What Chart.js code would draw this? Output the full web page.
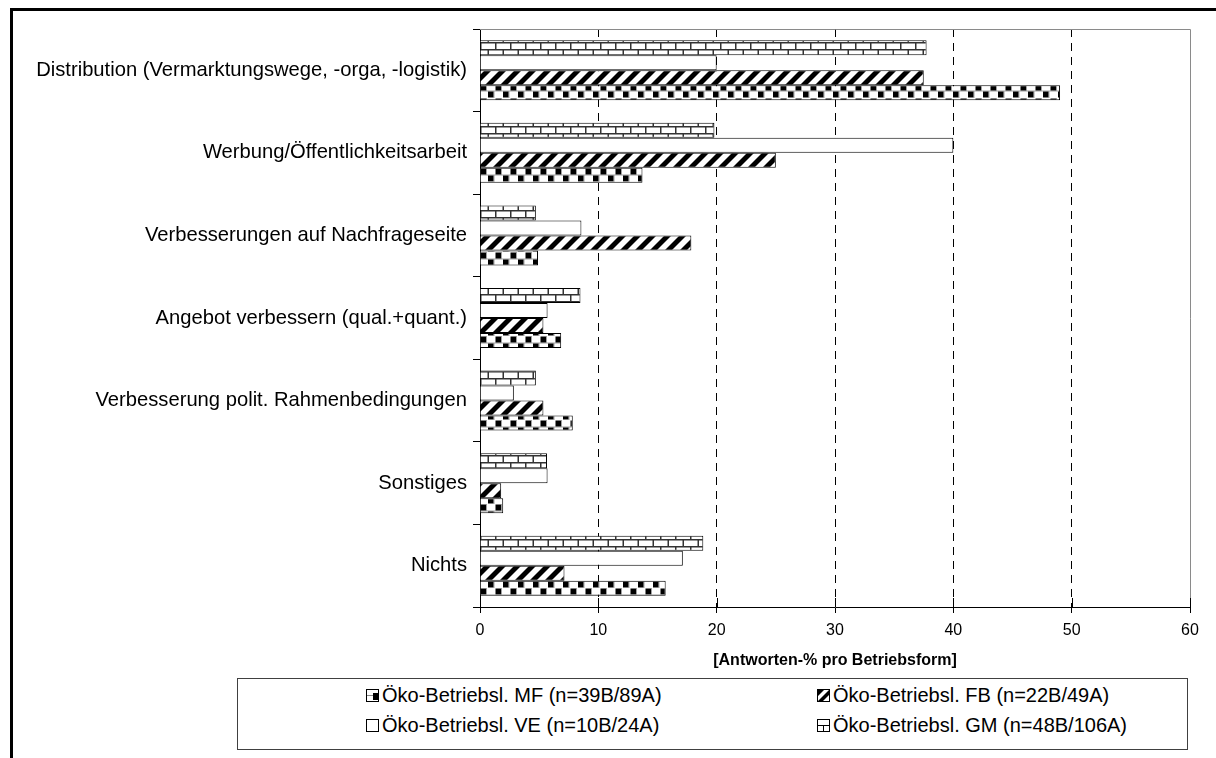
<!DOCTYPE html>
<html lang="de">
<head>
<meta charset="utf-8">
<title>Antworten pro Betriebsform</title>
<script src="https://cdn.jsdelivr.net/npm/chart.js@4.4.1/dist/chart.umd.min.js"></script>
<style>
  html, body { margin: 0; padding: 0; background: #fff; }
  #wrap { position: relative; width: 1216px; height: 758px; overflow: hidden; background: #fff; }
  #chart { position: absolute; left: 0; top: 0; }
  #legend {
    position: absolute; left: 237px; top: 678px; width: 951px; height: 72px;
    box-sizing: border-box; border: 1px solid #404040; background: #fff;
    font-family: "Liberation Sans", Arial, sans-serif; font-size: 20px; color: #000;
  }
  #legend .item { position: absolute; display: flex; align-items: center; white-space: nowrap; line-height: 24px; }
  #legend canvas { margin-right: 3px; }
</style>
</head>
<body>
<div id="wrap">
  <canvas id="chart" width="1216" height="758"></canvas>
  <div id="legend"></div>
</div>
<script>
// Categories (top to bottom)
const categories = [
  'Distribution (Vermarktungswege, -orga, -logistik)',
  'Werbung/Öffentlichkeitsarbeit',
  'Verbesserungen auf Nachfrageseite',
  'Angebot verbessern (qual.+quant.)',
  'Verbesserung polit. Rahmenbedingungen',
  'Sonstiges',
  'Nichts'
];

// Share of answers in % per farm type
const valuesGM = [37.74, 19.81, 4.72, 8.49, 4.72, 5.66, 18.87];
const valuesVE = [20.00, 40.00, 8.57, 5.71, 2.86, 5.71, 17.14];
const valuesFB = [37.50, 25.00, 17.86, 5.36, 5.36, 1.79, 7.14];
const valuesMF = [49.02, 13.73, 4.90, 6.86, 7.84, 1.96, 15.69];

// Series names
const seriesNames = {
  MF: 'Öko-Betriebsl. MF (n=39B/89A)',
  FB: 'Öko-Betriebsl. FB (n=22B/49A)',
  VE: 'Öko-Betriebsl. VE (n=10B/24A)',
  GM: 'Öko-Betriebsl. GM (n=48B/106A)'
};

// Legend order (row by row, two columns)
const legendOrder = ['MF', 'FB', 'VE', 'GM'];

// x axis
const axisMin = 0;
const axisMax = 60;
const axisStep = 10;
const axisTitle = '[Antworten-% pro Betriebsform]';

// ---- fill patterns ----
function makeTile(w, h, draw) {
  const c = document.createElement('canvas');
  c.width = w; c.height = h;
  const g = c.getContext('2d');
  g.fillStyle = '#fff';
  g.fillRect(0, 0, w, h);
  draw(g, w, h);
  return c;
}

// brick rows
const brickTile = makeTile(15, 14, (g, w, h) => {
  g.fillStyle = '#333';
  g.fillRect(0, 0, w, 1.5);
  g.fillRect(0, 7, w, 1.5);
  g.fillRect(0, 0, 1.5, 7);
  g.fillRect(7.5, 7, 1.5, 7);
});

// wide diagonal stripes
const stripeTile = makeTile(15, 15, (g, w, h) => {
  g.fillStyle = '#000';
  for (let k = -1; k <= 1; k++) {
    const x0 = k * w;
    g.beginPath();
    g.moveTo(x0, h);
    g.lineTo(x0 + w, 0);
    g.lineTo(x0 + w + 7, 0);
    g.lineTo(x0 + 7, h);
    g.closePath();
    g.fill();
  }
});

// offset black squares
const checkTile = makeTile(15, 14, (g, w, h) => {
  g.fillStyle = '#a0a0a0';
  g.fillRect(0, 6.5, w, 1);
  g.fillRect(6, 0, 1, 7);
  g.fillRect(13.5, 7, 1, 7);
  g.fillStyle = '#000';
  g.fillRect(0.5, 0.5, 5.5, 6);
  g.fillRect(8, 7.5, 5.5, 6);
});

const cctx = document.getElementById('chart').getContext('2d');
const fills = {
  GM: cctx.createPattern(brickTile, 'repeat'),
  VE: '#ffffff',
  FB: cctx.createPattern(stripeTile, 'repeat'),
  MF: cctx.createPattern(checkTile, 'repeat')
};

// ---- outer frame, plot border and inner x ticks ----
const framePlugin = {
  id: 'frame',
  beforeDatasetsDraw(chart) {
    const { ctx, chartArea: a } = chart;
    const xs = chart.scales.x;
    ctx.save();
    ctx.strokeStyle = '#8a8a8a';
    ctx.lineWidth = 1;
    ctx.beginPath();
    ctx.moveTo(a.left, a.top + 0.5);
    ctx.lineTo(a.right + 0.5, a.top + 0.5);
    ctx.lineTo(a.right + 0.5, a.bottom);
    ctx.stroke();
    // tick marks also reach a little into the plot area
    ctx.strokeStyle = '#000';
    ctx.beginPath();
    xs.ticks.forEach(t => {
      const px = Math.round(xs.getPixelForValue(t.value)) + 0.5;
      ctx.moveTo(px, a.bottom - 9);
      ctx.lineTo(px, a.bottom);
    });
    ctx.stroke();
    ctx.restore();
  },
  afterDraw(chart) {
    const { ctx } = chart;
    ctx.save();
    ctx.fillStyle = '#000';
    ctx.fillRect(10, 8, 3, chart.height - 8);
    ctx.fillRect(10, 8, chart.width - 10, 3);
    ctx.restore();
  }
};

Chart.defaults.font.family = '"Liberation Sans", Arial, sans-serif';
Chart.defaults.color = '#000';

const chart = new Chart(cctx, {
  type: 'bar',
  data: {
    labels: categories,
    datasets: [
      { label: seriesNames.GM, data: valuesGM, backgroundColor: fills.GM },
      { label: seriesNames.VE, data: valuesVE, backgroundColor: fills.VE },
      { label: seriesNames.FB, data: valuesFB, backgroundColor: fills.FB },
      { label: seriesNames.MF, data: valuesMF, backgroundColor: fills.MF }
    ]
  },
  options: {
    indexAxis: 'y',
    responsive: false,
    animation: false,
    devicePixelRatio: 1,
    layout: { padding: { left: 10, top: 29, right: 26, bottom: 71 } },
    datasets: {
      bar: {
        categoryPercentage: 0.727,
        barPercentage: 1,
        borderWidth: 1,
        borderColor: '#000',
        borderSkipped: 'start'
      }
    },
    plugins: {
      legend: { display: false },
      tooltip: { enabled: false }
    },
    scales: {
      x: {
        min: axisMin,
        max: axisMax,
        ticks: { stepSize: axisStep, color: '#000', font: { size: 16 }, padding: 8 },
        grid: {
          color: c => (c.tick && (c.tick.value === axisMin || c.tick.value === axisMax)) ? 'rgba(0,0,0,0)' : '#000',
          lineWidth: 1,
          tickColor: '#000',
          tickLength: 6,
          tickBorderDash: []
        },
        border: { color: '#000', width: 1, dash: [8, 6] },
        title: {
          display: true,
          text: axisTitle,
          color: '#000',
          font: { size: 16, weight: 'bold' },
          padding: { top: 4, bottom: 17 }
        },
        afterFit(scale) { scale.height = 80; }
      },
      y: {
        ticks: { color: '#000', font: { size: 20.2 }, padding: 6, autoSkip: false },
        grid: {
          drawOnChartArea: false,
          drawTicks: true,
          tickLength: 7,
          offset: true,
          color: '#000',
          tickColor: '#000'
        },
        border: { color: '#000', width: 1 },
        afterFit(scale) { scale.width = 470; }
      }
    }
  },
  plugins: [framePlugin]
});

// ---- legend ----
function drawIcon(key) {
  const c = document.createElement('canvas');
  c.width = 13; c.height = 13;
  const g = c.getContext('2d');
  g.fillStyle = '#fff';
  g.fillRect(0, 0, 13, 13);
  g.fillStyle = '#000';
  if (key === 'MF') {
    g.fillRect(7, 4, 5, 7);
    g.fillStyle = '#888';
    g.fillRect(1, 6, 6, 1);
  } else if (key === 'FB') {
    g.beginPath();
    g.moveTo(1, 12); g.lineTo(12, 1); g.lineTo(12, 6); g.lineTo(6, 12);
    g.closePath(); g.fill();
    g.beginPath();
    g.moveTo(1, 7); g.lineTo(7, 1); g.lineTo(1, 1);
    g.closePath(); g.fill();
  } else if (key === 'GM') {
    g.fillRect(1, 6, 11, 1);
    g.fillRect(6, 6, 1, 6);
  }
  g.strokeStyle = '#000';
  g.lineWidth = 1;
  g.strokeRect(0.5, 0.5, 12, 12);
  return c;
}

const legendEl = document.getElementById('legend');
const colX = [128, 579];
const rowY = [4, 34];
legendOrder.forEach((key, i) => {
  const item = document.createElement('div');
  item.className = 'item';
  item.style.left = colX[i % 2] + 'px';
  item.style.top = rowY[Math.floor(i / 2)] + 'px';
  item.appendChild(drawIcon(key));
  const span = document.createElement('span');
  span.textContent = seriesNames[key];
  item.appendChild(span);
  legendEl.appendChild(item);
});
</script>
</body>
</html>
